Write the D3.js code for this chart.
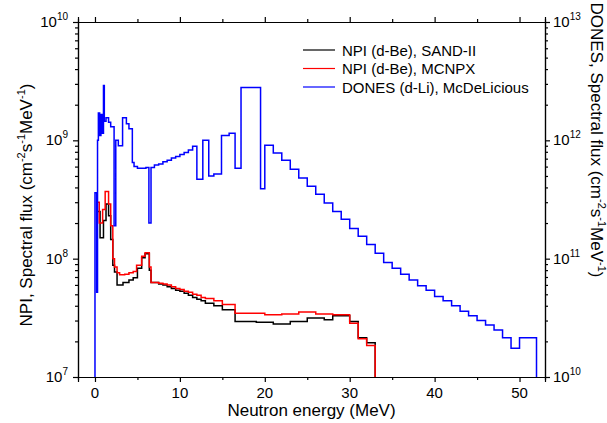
<!DOCTYPE html>
<html>
<head>
<meta charset="utf-8">
<script src="https://cdn.jsdelivr.net/npm/d3@7"></script>
<style>
  body { margin: 0; background: #fff; }
  text { font-family: "Liberation Sans", Arial, sans-serif; fill: #000; }
</style>
</head>
<body>
<svg id="chart" width="607" height="423"></svg>
<script>
// NPI (d-Be), SAND-II unfolding -- bin lower edges (MeV) and flux (left axis)
const sandEnergy = [0.25, 0.6, 1.0, 1.3, 1.6, 1.85, 2.1, 2.3, 2.6, 3.3, 4.0, 4.5, 5.0, 5.5, 5.9, 6.4, 6.6, 7.5, 8, 8.5,
  9, 9.5, 10, 10.5, 11, 11.5, 12, 12.5, 13, 14, 15, 16.5, 19, 21, 23, 25, 27, 28, 30, 31, 32];
const sandFlux = [2.5e8, 1.5e8, 2.1e8, 2.9e8, 2.3e8, 1.45e8, 8.8e7, 7.7e7, 6.0e7, 6.3e7, 6.6e7, 6.9e7, 8.3e7, 1.02e8, 1.1e8, 8.0e7, 6.3e7, 6.1e7, 6.0e7, 5.8e7,
  5.6e7, 5.4e7, 5.3e7, 5.1e7, 4.9e7, 4.7e7, 4.55e7, 4.4e7, 4.2e7, 4.0e7, 3.7e7, 2.95e7, 2.9e7, 2.8e7, 2.95e7, 3.15e7, 3.05e7, 3.3e7, 2.95e7, 2.15e7, 1.95e7];
const sandEnd = 33;

// NPI (d-Be), MCNPX
const mcnpxEnergy = [0.25, 0.5, 0.9, 1.2, 1.6, 1.85, 2.1, 2.3, 2.6, 2.9, 3.5, 4.0, 4.5, 4.9, 5.5, 5.9, 6.4, 6.6, 7.5, 8,
  8.5, 9, 9.5, 10, 10.5, 11, 11.5, 12, 12.5, 13, 14, 15, 16.5, 20, 22, 24, 26, 28, 30, 31, 32];
const mcnpxFlux = [3.0e8, 2.0e8, 2.6e8, 3.7e8, 2.9e8, 1.9e8, 1.0e8, 8.5e7, 7.6e7, 7.3e7, 7.4e7, 7.6e7, 7.8e7, 8.8e7, 1.05e8, 1.12e8, 8.5e7, 6.3e7, 6.2e7, 6.1e7,
  6.0e7, 5.8e7, 5.6e7, 5.5e7, 5.3e7, 5.2e7, 5.0e7, 4.9e7, 4.7e7, 4.6e7, 4.4e7, 4.1e7, 3.45e7, 3.35e7, 3.4e7, 3.55e7, 3.4e7, 3.35e7, 2.85e7, 2.1e7, 1.85e7];
const mcnpxEnd = 33;

// DONES (d-Li), McDeLicious (right axis)
const donesEnergy = [0, 0.2, 0.3, 0.4, 0.55, 0.7, 0.85, 1.0, 1.1, 1.3, 1.6, 1.85, 2.25, 2.45, 2.75, 3.25, 3.7, 4.0, 4.4, 4.6, 5.0,
  6.0, 6.35, 6.6, 7, 7.5, 8, 8.5, 9, 9.5, 10, 10.5, 11, 11.5, 12, 12.7, 13.4, 14, 14.9, 15.8, 16.5,
  17.2, 19.5, 20, 21, 22, 23, 24, 25, 26, 27, 28, 29, 30, 31, 32, 33, 34, 35, 36, 37,
  38, 39, 40, 41, 42, 43, 44, 45, 46, 47, 48, 49, 50];
const donesFlux = [3.6e11, 5.2e10, 1.0e12, 1.7e12, 1.1e12, 1.65e12, 1.15e12, 2.9e12, 1.45e12, 1.55e12, 1.42e12, 1.3e12, 1.9e11, 1.0e12, 9.0e11, 1.55e12, 1.38e12, 1.25e12, 6.5e11, 6.0e11, 5.8e11,
  5.9e11, 2.0e11, 5.9e11, 6.2e11, 6.3e11, 6.6e11, 6.8e11, 7.1e11, 7.3e11, 7.6e11, 7.9e11, 8.3e11, 8.9e11, 4.7e11, 1.0e12, 5.0e11, 5.2e11, 1.1e12, 1.15e12, 5.8e11,
  2.8e12, 3.9e11, 9.1e11, 7.8e11, 6.8e11, 5.7e11, 4.8e11, 4.1e11, 3.5e11, 2.95e11, 2.5e11, 2.15e11, 1.8e11, 1.55e11, 1.32e11, 1.11e11, 9.3e10, 8.3e10, 7.4e10, 6.6e10,
  5.9e10, 5.4e10, 4.8e10, 4.4e10, 4.0e10, 3.6e10, 3.3e10, 3.0e10, 2.75e10, 2.5e10, 2.15e10, 1.75e10, 2.15e10];
const donesEnd = 52;

const xMajor = [0, 10, 20, 30, 40, 50];
const xMinor = [5, 15, 25, 35, 45];
const leftDecades = [7, 8, 9, 10];
const rightDecades = [10, 11, 12, 13];
const legendLabels = ["NPI (d-Be), SAND-II", "NPI (d-Be), MCNPX", "DONES (d-Li), McDeLicious"];
const colors = ["#000000", "#ff0000", "#0000ff"];

const W = 607, H = 423;
const margin = { top: 22, right: 62, bottom: 46, left: 78 };
const svg = d3.select("#chart");

const x = d3.scaleLinear().domain([-2, 53]).range([margin.left, W - margin.right]);
const yL = d3.scaleLog().domain([1e7, 1e10]).range([H - margin.bottom, margin.top]);
const yR = d3.scaleLog().domain([1e10, 1e13]).range([H - margin.bottom, margin.top]);

function minors(decades) {
  const out = [];
  for (let i = 0; i < decades.length - 1; i++)
    for (let k = 2; k <= 9; k++) out.push(k * Math.pow(10, decades[i]));
  return out;
}

function drawAxis(axisFn, scale, values, size, transform) {
  const g = svg.append("g").attr("transform", transform)
    .call(axisFn(scale).tickValues(values).tickSize(size).tickFormat(""));
  g.selectAll("path, line").attr("stroke", "#000").attr("stroke-width", 1.2);
  return g;
}

const bottom = H - margin.bottom, right = W - margin.right;
drawAxis(d3.axisBottom, x, xMajor, 5, `translate(0,${bottom})`);
drawAxis(d3.axisBottom, x, xMinor, 3, `translate(0,${bottom})`);
drawAxis(d3.axisTop, x, xMajor, 5, `translate(0,${margin.top})`);
drawAxis(d3.axisTop, x, xMinor, 3, `translate(0,${margin.top})`);
drawAxis(d3.axisLeft, yL, leftDecades.map(d => Math.pow(10, d)), 5, `translate(${margin.left},0)`);
drawAxis(d3.axisLeft, yL, minors(leftDecades), 3, `translate(${margin.left},0)`);
drawAxis(d3.axisRight, yR, rightDecades.map(d => Math.pow(10, d)), 5, `translate(${right},0)`);
drawAxis(d3.axisRight, yR, minors(rightDecades), 3, `translate(${right},0)`);

// x tick labels
svg.append("g").selectAll("text").data(xMajor).enter().append("text")
  .attr("x", d => x(d)).attr("y", bottom + 21)
  .attr("text-anchor", "middle").style("font-size", "15px")
  .text(d => d);

function powerLabel(g, px, py, exp, anchor) {
  const t = g.append("text").attr("x", px).attr("y", py)
    .attr("text-anchor", anchor).style("font-size", "15px");
  t.append("tspan").text("10");
  t.append("tspan").attr("dy", -7).style("font-size", "10px").text(exp);
}
const lg = svg.append("g");
leftDecades.forEach(d => powerLabel(lg, margin.left - 10, yL(Math.pow(10, d)) + 5, d, "end"));
rightDecades.forEach(d => powerLabel(lg, right + 8, yR(Math.pow(10, d)) + 5, d, "start"));

// axis titles
svg.append("text")
  .attr("x", (margin.left + right) / 2).attr("y", H - 7)
  .attr("text-anchor", "middle").style("font-size", "17px")
  .text("Neutron energy  (MeV)");

function fluxTitle(t, lead) {
  t.append("tspan").text(lead + " (cm");
  t.append("tspan").attr("dy", -7).style("font-size", "11px").text("-2");
  t.append("tspan").attr("dy", 7).text("s");
  t.append("tspan").attr("dy", -7).style("font-size", "11px").text("-1");
  t.append("tspan").attr("dy", 7).text("MeV");
  t.append("tspan").attr("dy", -7).style("font-size", "11px").text("-1");
  t.append("tspan").attr("dy", 7).text(")");
}
fluxTitle(svg.append("text")
  .attr("transform", "translate(32,205) rotate(-90)")
  .attr("text-anchor", "middle").style("font-size", "17px"), "NPI, Spectral flux");
fluxTitle(svg.append("text")
  .attr("transform", "translate(591,140) rotate(90)")
  .attr("text-anchor", "middle").style("font-size", "17px"), "DONES, Spectral flux");

// step curves
function stepPoints(energy, flux, end, floor, fromFloor) {
  const pts = energy.map((e, i) => [e, flux[i]]);
  if (fromFloor) pts.unshift([energy[0], floor]);
  pts.push([end, flux[flux.length - 1]]);
  pts.push([end, floor]);
  return pts;
}
const series = [
  { pts: stepPoints(sandEnergy, sandFlux, sandEnd, 1e7, false), y: yL },
  { pts: stepPoints(mcnpxEnergy, mcnpxFlux, mcnpxEnd, 1e7, false), y: yL },
  { pts: stepPoints(donesEnergy, donesFlux, donesEnd, 1e10, true), y: yR }
];
series.forEach((s, i) => {
  const line = d3.line().curve(d3.curveStepAfter)
    .x(d => x(d[0])).y(d => s.y(d[1]));
  svg.append("path").datum(s.pts)
    .attr("d", line).attr("fill", "none")
    .attr("stroke", colors[i]).attr("stroke-width", 1.5)
    .attr("stroke-linejoin", "miter");
});

// legend
const leg = svg.append("g");
legendLabels.forEach((lab, i) => {
  const yy = 50 + i * 18.5;
  leg.append("line").attr("x1", 303).attr("x2", 335).attr("y1", yy).attr("y2", yy)
    .attr("stroke", colors[i]).attr("stroke-width", 1.2);
  leg.append("text").attr("x", 342).attr("y", yy + 5.5)
    .style("font-size", "15px").text(lab);
});
</script>
</body>
</html>
